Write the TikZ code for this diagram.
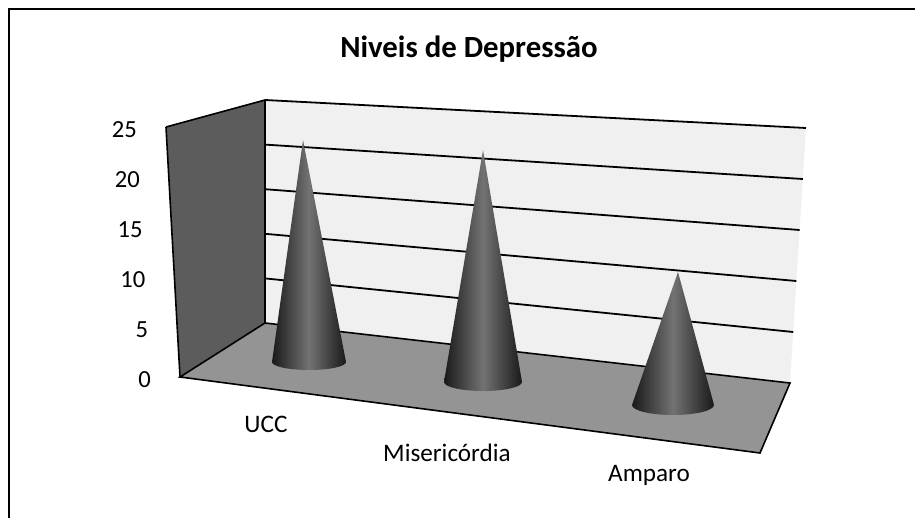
\documentclass[tikz,border=0pt]{standalone}
\usepackage{fontspec}
\setmainfont{Carlito}
\usetikzlibrary{calc}

\colorlet{sidewall}{black!64}
\colorlet{backwall}{black!6}
\colorlet{floorgray}{black!42}
\colorlet{conedark}{black!90}
\colorlet{conelight}{black!55}

\tikzset{
  gridline/.style={line width=0.9pt},
  ticklabel/.style={anchor=east,font=\fontsize{12.3}{14}\selectfont},
  catlabel/.style={anchor=base,font=\fontsize{12.6}{14}\selectfont},
  cone/.style={left color=conedark,right color=conedark,middle color=conelight}
}

\begin{document}
\begin{tikzpicture}[x=0.5pt,y=-0.5pt]
    \useasboundingbox (0,0) rectangle (915,518);
    \draw[line width=1pt] (8.5,540) -- (8.5,9.5) -- (940,9.5);

    \node[anchor=base,font=\bfseries\fontsize{15.4}{18}\selectfont] (title) at (469,58) {Niveis de Depressão};

    % corners of the box
    \coordinate (lw-tl) at (166,127);
    \coordinate (lw-bl) at (180,377);
    \coordinate (bw-tl) at (265,100);
    \coordinate (bw-bl) at (265,323);
    \coordinate (bw-tr) at (806,128);
    \coordinate (bw-br) at (790,383);
    \coordinate (fl-fr) at (760,453);

    \fill[sidewall] (lw-tl) -- (bw-tl) -- (bw-bl) -- (lw-bl) -- cycle;
    \draw[line width=0.8pt] (lw-tl) -- (bw-tl) (lw-tl) -- (lw-bl);
    \fill[backwall] (bw-tl) -- (bw-tr) -- (bw-br) -- (bw-bl) -- cycle;
    \draw[line width=0.6pt] (bw-tl) -- (bw-bl);
    \foreach \i in {1,...,5}
      \draw[gridline] ($(bw-bl)!\i/5!(bw-tl)$) -- ($(bw-br)!\i/5!(bw-tr)$);

    \filldraw[fill=floorgray,line width=0.8pt] (bw-bl) -- (bw-br) -- (fl-fr) -- (lw-bl) -- cycle;

    \foreach \v [count=\i from 0] in {25,20,15,10,5,0}
      \node[ticklabel] (tick\v) at ($(lw-tl)!\i/5!(lw-bl) + (-22,3)$) {\v};

    % cones: base centre, radii, apex
    \foreach \cx/\cy/\rx/\ry/\ax/\ay in {309/362/37/8/303/140, 483/382/39/9/483/150, 673/405/41/10/678/272}
      \shade[cone] (\cx-\rx,\cy) -- (\ax,\ay) -- (\cx+\rx,\cy)
        arc[start angle=0,end angle=180,x radius=\rx,y radius=\ry] -- cycle;

    \node[catlabel] (ucc) at (266,432) {UCC};
    \node[catlabel] (miser) at (447,461) {Misericórdia};
    \node[catlabel] (amparo) at (649,481) {Amparo};
  \end{tikzpicture}
\end{document}
